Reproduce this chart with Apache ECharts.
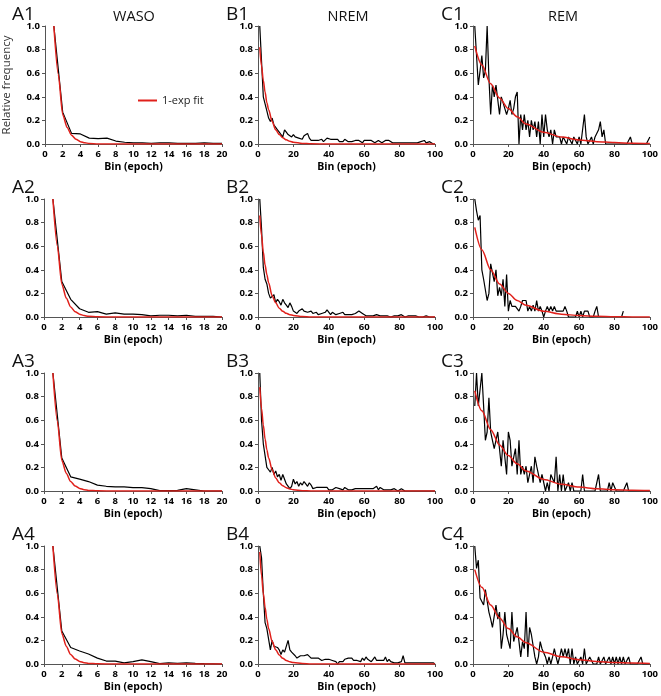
<!DOCTYPE html>
<html><head><meta charset="utf-8">
<script src="https://cdn.jsdelivr.net/npm/echarts@6/dist/echarts.min.js"></script>
<style>html,body{margin:0;padding:0;background:#fff}#c{width:661px;height:696px}</style>
</head><body><div id="c"></div>
<script>
// ---- tick labels ----
const xTicksWaso = [0,2,4,6,8,10,12,14,16,18,20];
const xTicksLong = [0,20,40,60,80,100];
const yTicks = [0,0.2,0.4,0.6,0.8,1.0];
const columnTitles = ['WASO','NREM','REM'];

// ---- WASO (bins 1..20) ----
const waso1 = [1.0,0.27,0.09,0.085,0.05,0.045,0.05,0.025,0.015,0.01,0.01,0.005,0.01,0.01,0.005,0.005,0.005,0.01,0.005,0.005];
const waso2 = [1.0,0.30,0.15,0.07,0.04,0.045,0.025,0.035,0.025,0.025,0.02,0.01,0.015,0.015,0.01,0.015,0.005,0.005,0.005,0.0];
const waso3 = [1.0,0.28,0.12,0.10,0.08,0.05,0.04,0.035,0.035,0.028,0.028,0.02,0.003,0.003,0.005,0.02,0.01,0.0,0.0,0.0];
const waso4 = [1.0,0.28,0.14,0.11,0.085,0.05,0.025,0.025,0.01,0.02,0.035,0.02,0.003,0.01,0.005,0.01,0.005,0.003,0.002,0.0];
const fitXWaso = [1,1.5,2,2.5,3,3.5,4,4.5,5,6,8,20];
const fitWaso1 = [1,0.59,0.25,0.14,0.075,0.04,0.02,0.01,0.005,0.001,0,0];
const fitWaso2 = [1,0.60,0.28,0.16,0.085,0.045,0.024,0.012,0.006,0.002,0,0];
const fitWaso3 = [1,0.59,0.26,0.15,0.08,0.042,0.022,0.011,0.005,0.0015,0,0];
const fitWaso4 = [1,0.59,0.26,0.15,0.08,0.042,0.022,0.011,0.005,0.0015,0,0];

// ---- NREM (bins 1..100) ----
const nrem1 = [1.0,0.7,0.4,0.39,0.28,0.22,0.19,0.22,0.16,0.14,
0.12,0.1,0.08,0.06,0.12,0.1,0.08,0.08,0.06,0.08,
0.06,0.07,0.05,0.06,0.04,0.07,0.08,0.09,0.05,0.03,
0.04,0.03,0.02,0.03,0.02,0.04,0.02,0.03,0.05,0.04,
0.04,0.03,0.04,0.03,0.04,0.02,0.03,0.02,0.04,0.03,
0.02,0.03,0.02,0.01,0.03,0.02,0.03,0.02,0.01,0.03,
0.02,0.03,0.02,0.03,0.02,0.01,0.02,0.03,0.02,0.01,
0.02,0.03,0.02,0.03,0.02,0.01,0.02,0.01,0.02,0.01,
0.0,0.01,0.02,0.01,0.0,0.01,0.0,0.01,0.02,0.01,
0.01,0.02,0.01,0.03,0.01,0.0,0.02,0.01,0.0,0.0];
const nrem2 = [1.0,0.75,0.42,0.32,0.28,0.2,0.16,0.17,0.19,0.12,
0.15,0.13,0.1,0.15,0.12,0.1,0.08,0.12,0.09,0.05,
0.04,0.03,0.05,0.06,0.07,0.05,0.05,0.04,0.04,0.05,
0.03,0.02,0.04,0.02,0.01,0.03,0.02,0.04,0.06,0.05,
0.02,0.04,0.03,0.02,0.01,0.03,0.02,0.04,0.02,0.01,
0.02,0.01,0.02,0.02,0.03,0.02,0.05,0.04,0.03,0.02,
0.01,0.02,0.01,0.02,0.01,0.01,0.02,0.01,0.01,0.01,
0.01,0.0,0.01,0.01,0.0,0.01,0.01,0.0,0.01,0.01,
0.02,0.01,0.0,0.01,0.01,0.0,0.01,0.0,0.01,0.0,
0.0,0.01,0.0,0.0,0.01,0.0,0.0,0.0,0.0,0.0];
const nrem3 = [1.0,0.6,0.4,0.3,0.2,0.18,0.16,0.2,0.14,0.17,
0.12,0.14,0.09,0.14,0.1,0.06,0.05,0.02,0.04,0.1,
0.06,0.08,0.04,0.07,0.05,0.08,0.06,0.04,0.07,0.05,
0.02,0.03,0.03,0.02,0.03,0.04,0.03,0.02,0.03,0.01,
0.02,0.01,0.02,0.03,0.02,0.02,0.03,0.01,0.03,0.02,
0.01,0.02,0.01,0.01,0.02,0.01,0.02,0.03,0.02,0.03,
0.02,0.01,0.02,0.01,0.02,0.01,0.04,0.01,0.03,0.02,
0.01,0.02,0.01,0.02,0.01,0.01,0.02,0.01,0.0,0.01,
0.02,0.01,0.0,0.01,0.0,0.01,0.0,0.01,0.0,0.01,
0.0,0.01,0.0,0.01,0.0,0.0,0.0,0.0,0.0,0.0];
const nrem4 = [1.0,0.9,0.6,0.35,0.3,0.3,0.12,0.2,0.15,0.14,
0.14,0.12,0.08,0.12,0.1,0.1,0.2,0.12,0.1,0.11,
0.07,0.05,0.06,0.07,0.07,0.07,0.08,0.08,0.07,0.05,
0.06,0.05,0.04,0.05,0.04,0.03,0.04,0.04,0.03,0.04,
0.04,0.03,0.04,0.02,0.0,0.02,0.03,0.02,0.04,0.03,
0.05,0.04,0.05,0.03,0.04,0.03,0.04,0.02,0.05,0.03,
0.06,0.04,0.03,0.02,0.04,0.06,0.03,0.02,0.03,0.02,
0.03,0.06,0.02,0.04,0.02,0.03,0.01,0.02,0.01,0.02,
0.02,0.07,0.01,0.01,0.01,0.0,0.01,0.0,0.01,0.02,
0.01,0.02,0.01,0.01,0.01,0.0,0.01,0.0,0.01,0.0];
const fitXNrem = [1,2,3,4,5,6,8,10,12,14,16,18,20,25,30,40,100];
const fitNrem1 = [0.82,0.66,0.54,0.44,0.35,0.29,0.19,0.12,0.08,0.053,0.035,0.023,0.015,0.005,0.002,0,0];
const fitNrem2 = [0.86,0.69,0.55,0.44,0.36,0.29,0.18,0.12,0.075,0.048,0.031,0.02,0.013,0.004,0.001,0,0];
const fitNrem3 = [0.88,0.70,0.56,0.44,0.35,0.28,0.18,0.11,0.07,0.044,0.028,0.017,0.011,0.003,0.001,0,0];
const fitNrem4 = [0.95,0.75,0.60,0.48,0.38,0.30,0.19,0.12,0.076,0.048,0.03,0.019,0.012,0.004,0.001,0,0];

// ---- REM (bins 1..100) ----
const rem1 = [1.0,0.75,0.5,0.62,0.75,0.56,0.62,1.0,0.56,0.25,
0.5,0.4,0.5,0.5,0.25,0.4,0.35,0.3,0.25,0.3,
0.37,0.25,0.3,0.4,0.44,0.0,0.25,0.12,0.25,0.12,
0.2,0.06,0.2,0.12,0.19,0.06,0.19,0.0,0.25,0.06,
0.25,0.12,0.06,0.12,0.0,0.12,0.06,0.06,0.06,0.0,
0.06,0.06,0.0,0.06,0.06,0.0,0.06,0.06,0.0,0.06,
0.0,0.0,0.25,0.06,0.0,0.0,0.06,0.0,0.06,0.06,
0.12,0.19,0.06,0.12,0.0,0,0,0,0,0,
0,0,0,0,0,0,0,0,0.06,0,
0,0,0,0,0,0,0,0,0,0.06];
const rem2 = [1.0,0.9,0.82,0.86,0.4,0.32,0.32,0.14,0.2,0.45,
0.45,0.3,0.4,0.18,0.25,0.18,0.32,0.09,0.36,0.05,
0.14,0.09,0.1,0.09,0.1,0.05,0.09,0.14,0.14,0.14,
0.05,0.09,0.05,0.1,0.05,0.14,0.05,0.09,0.05,0.0,
0.05,0.09,0.05,0.09,0.05,0.09,0.05,0.05,0.05,0.05,
0.05,0.09,0.05,0.0,0.0,0.0,0.0,0.0,0.05,0.0,
0.05,0.0,0.05,0.05,0.05,0.0,0.0,0.0,0.05,0.09,
0.0,null,null,null,null,null,null,null,null,null,
null,null,null,0.0,0.05,null,null,null,null,null,
null,null,null,null,null,null,null,null,null,null];
const rem3 = [0.72,1.0,0.72,0.86,1.0,0.72,0.43,0.5,0.79,0.5,
0.43,0.36,0.36,0.5,0.5,0.21,0.43,0.43,0.14,0.5,
0.43,0.21,0.21,0.36,0.14,0.43,0.14,0.21,0.14,0.21,
0.07,0.14,0.21,0.07,0.29,0.21,0.14,0.07,0.14,0.14,
0.0,0.07,0.0,0.14,0.14,0.07,0.29,0.0,0.14,0.0,
0.14,0.0,0.0,0.07,0.0,0.07,0.0,0.0,0.0,0.0,
0.0,0.14,0.0,0,0,0,0,0,0,0,
0.14,0,0,0,0,0,0.07,0,0.07,0.07,
0,0,0,0,0,0,0.07,0,0,0,
0,0,0,0,0,0,0,0,0,0];
const rem4 = [1.0,0.81,0.88,0.56,0.56,0.5,0.63,0.63,0.44,0.38,
0.31,0.31,0.5,0.38,0.44,0.13,0.25,0.44,0.25,0.19,
0.13,0.44,0.19,0.25,0.31,0.19,0.06,0.19,0.13,0.44,
0.06,0.31,0.25,0.25,0.06,0.0,0.06,0.19,0.13,0.13,
0.06,0.0,0.06,0.0,0.06,0.13,0.06,0.0,0.06,0.13,
0.06,0.13,0.06,0.13,0.0,0.13,0.0,0.06,0.0,0.0,
0.06,0.0,0.13,0.0,0.0,0.06,0.06,0.0,0.0,0.0,
0.06,0.0,0.0,0.06,0.0,0.0,0.06,0.0,0.06,0.0,
0.06,0.0,0.06,0.0,0.06,0.0,0.0,0.06,0.0,0.0,
0,0,0,0,0.06,0,0,0,0,0];
const fitXRem = [1,5,10,15,20,25,30,40,50,60,70,80,90,100];
const fitRem1 = [0.83,0.67,0.51,0.39,0.30,0.23,0.17,0.10,0.059,0.034,0.02,0.012,0.007,0.004];
const fitRem2 = [0.76,0.57,0.40,0.28,0.20,0.14,0.10,0.048,0.024,0.012,0.006,0.003,0.001,0];
const fitRem3 = [0.85,0.68,0.52,0.39,0.30,0.23,0.17,0.098,0.057,0.033,0.019,0.011,0.006,0.004];
const fitRem4 = [0.80,0.65,0.50,0.39,0.30,0.23,0.18,0.10,0.062,0.037,0.022,0.013,0.008,0.005];

// ---- layout ----
const colLeft = [44, 258, 473];
const colWidth = [178, 177, 177];
const rowTop = [26, 199, 373, 546];
const plotH = 118;
const FONT = '"Open Sans", "Liberation Sans", sans-serif';
const RED = '#e0201b';

const columns = [
  {rows:[waso1,waso2,waso3,waso4], fitX: fitXWaso, fits:[fitWaso1,fitWaso2,fitWaso3,fitWaso4], ticks:xTicksWaso, smooth:0.25, letter:'A'},
  {rows:[nrem1,nrem2,nrem3,nrem4], fitX: fitXNrem, fits:[fitNrem1,fitNrem2,fitNrem3,fitNrem4], ticks:xTicksLong, smooth:0.3, letter:'B'},
  {rows:[rem1,rem2,rem3,rem4], fitX: fitXRem, fits:[fitRem1,fitRem2,fitRem3,fitRem4], ticks:xTicksLong, smooth:0.3, letter:'C'}
];

const grid = [], xAxis = [], yAxis = [], series = [], title = [];
let gi = 0;
columns.forEach((col, c) => {
  const t = col.ticks;
  col.rows.forEach((vals, r) => {
    grid.push({left: colLeft[c], top: rowTop[r], width: colWidth[c], height: plotH, containLabel: false});
    xAxis.push({
      type:'value', gridIndex: gi, min:t[0], max: t[t.length-1], interval: t[1]-t[0],
      name:'Bin (epoch)', nameLocation:'middle', nameGap:18,
      nameTextStyle:{fontFamily:FONT, fontWeight:'bold', fontSize:10.5, color:'#000'},
      axisLine:{lineStyle:{color:'#555', width:1}},
      axisTick:{show:true, length:3, lineStyle:{color:'#555'}},
      axisLabel:{fontFamily:FONT, fontWeight:'bold', fontSize:9.5, color:'#000', margin:5},
      splitLine:{show:false}
    });
    yAxis.push({
      type:'value', gridIndex: gi, min:yTicks[0], max:yTicks[yTicks.length-1], interval:yTicks[1]-yTicks[0],
      name: (c===0 && r===0) ? 'Relative frequency' : '',
      nameLocation:'middle', nameGap:32, nameRotate:90,
      nameTextStyle:{fontFamily:FONT, fontSize:11.5, color:'#333'},
      axisLine:{show:true, lineStyle:{color:'#555', width:1}},
      axisTick:{show:true, length:3, lineStyle:{color:'#555'}},
      axisLabel:{fontFamily:FONT, fontWeight:'bold', fontSize:9.5, color:'#000', margin:5,
        formatter: v => v.toFixed(1)},
      splitLine:{show:false}
    });
    series.push({
      type:'line', xAxisIndex: gi, yAxisIndex: gi, name:'data',
      data: vals.map((v,i)=>[i+1, v]),
      showSymbol:false, symbol:'none', connectNulls:false,
      lineStyle:{color:'#000', width:1.2}, z:2, animation:false
    });
    series.push({
      type:'line', xAxisIndex: gi, yAxisIndex: gi, name:'1-exp fit',
      data: col.fitX.map((x,i)=>[x, col.fits[r][i]]),
      showSymbol:false, symbol:'none', smooth:col.smooth, smoothMonotone:'x',
      lineStyle:{color:RED, width:1.5}, itemStyle:{color:RED}, z:3, animation:false
    });
    title.push({text: col.letter + (r+1), left: colLeft[c] - 37, top: rowTop[r] - 26,
      textStyle:{fontFamily:FONT, fontWeight:'normal', fontSize:19, color:'#111'}});
    gi++;
  });
  title.push({text: columnTitles[c], left: colLeft[c] + 85, top: 4, textAlign:'center',
    textStyle:{fontFamily:FONT, fontWeight:'normal', fontSize:14.5, color:'#111'}});
});

const chart = echarts.init(document.getElementById('c'), null, {renderer:'canvas'});
chart.setOption({
  animation:false,
  backgroundColor:'#fff',
  title,
  grid, xAxis, yAxis, series,
  legend:{data:['1-exp fit'], left:133, top:90, icon:'rect', itemWidth:19, itemHeight:2, itemGap:4,
    textStyle:{fontFamily:FONT, fontSize:11, color:'#222'}, selectedMode:false}
});
</script></body></html>
